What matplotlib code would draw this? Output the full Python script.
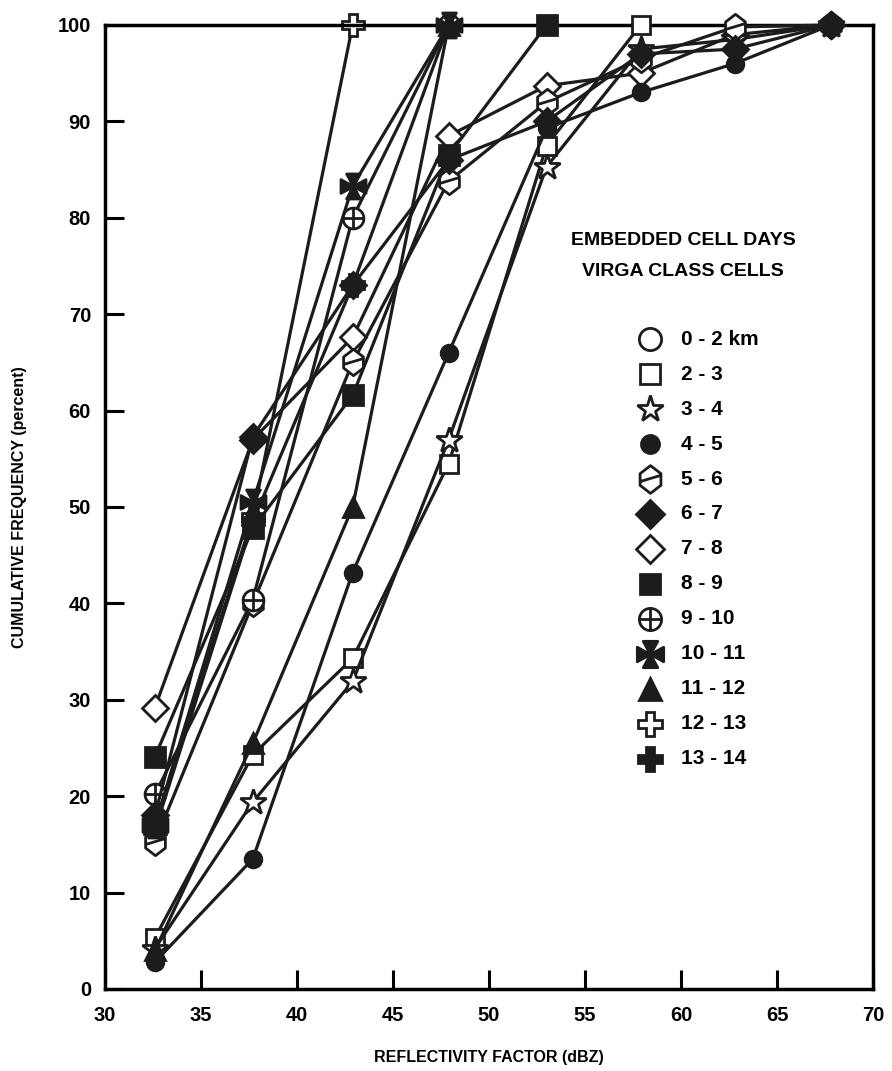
import matplotlib
matplotlib.use("Agg")
import matplotlib.pyplot as plt
from matplotlib.path import Path

plt.rcParams['font.family'] = ['Liberation Sans', 'DejaVu Sans']
plt.rcParams['font.weight'] = 'bold'

# ---- data -------------------------------------------------------------
x_dbz = [32.6, 37.7, 42.9, 47.9, 53.0, 57.9, 62.8, 67.8]

labels = ["0 - 2 km", "2 - 3", "3 - 4", "4 - 5", "5 - 6", "6 - 7", "7 - 8",
          "8 - 9", "9 - 10", "10 - 11", "11 - 12", "12 - 13", "13 - 14"]

cf_0_2 = []
cf_2_3 = [5.3, 24.3, 34.3, 54.5, 87.5, 100]
cf_3_4 = [4.2, 19.4, 31.9, 57.0, 85.3, 97.5, 98.5, 100]
cf_4_5 = [2.8, 13.5, 43.2, 66.0, 89.3, 93.0, 96.0, 100]
cf_5_6 = [15.3, 40.0, 65.0, 83.8, 92.0, 96.5, 99.8, 100]
cf_6_7 = [18.0, 57.3, 73.0, 86.0, 90.0, 97.0, 97.5, 100]
cf_7_8 = [29.2, 57.0, 67.6, 88.5, 93.7, 95.0, 99.0, 100]
cf_8_9 = [24.1, 47.8, 61.6, 86.5, 100]
cf_9_10 = [20.2, 40.4, 80.0, 100]
cf_10_11 = [17.0, 50.5, 83.3, 100]
cf_11_12 = [4.0, 25.5, 50.0, 100]
cf_12_13 = [16.8, 49.0, 100]
cf_13_14 = [16.5, 48.5, 73.0, 100]

series = [cf_0_2, cf_2_3, cf_3_4, cf_4_5, cf_5_6, cf_6_7, cf_7_8,
          cf_8_9, cf_9_10, cf_10_11, cf_11_12, cf_12_13, cf_13_14]

x_ticks = [30, 35, 40, 45, 50, 55, 60, 65, 70]
y_ticks = [0, 10, 20, 30, 40, 50, 60, 70, 80, 90, 100]

# ---- custom markers ---------------------------------------------------
M, L, C = Path.MOVETO, Path.LINETO, Path.CLOSEPOLY
hex_slash = Path(
    [(0, 1), (0.75, 0.42), (0.75, -0.42), (0, -1), (-0.75, -0.42), (-0.75, 0.42), (0, 1),
     (-0.75, -0.15), (0.75, 0.3)],
    [M, L, L, L, L, L, C, M, L])
maltese = Path(
    [(-0.55, 1), (0.55, 1), (0, 0), (-0.55, 1),
     (1, 0.55), (1, -0.55), (0, 0), (1, 0.55),
     (0.55, -1), (-0.55, -1), (0, 0), (0.55, -1),
     (-1, -0.55), (-1, 0.55), (0, 0), (-1, -0.55)],
    [M, L, L, C] * 4)
circle_plus = Path.make_compound_path(
    Path.unit_circle(),
    Path([(-1, 0), (1, 0)], [M, L]),
    Path([(0, -1), (0, 1)], [M, L]))

DK = '#1c1c1c'
W = 'white'
styles = [
    dict(marker='o', mfc=W, ms=15, z=3),
    dict(marker='s', mfc=W, ms=13, z=3),
    dict(marker='*', mfc=W, ms=19, z=3),
    dict(marker='o', mfc=DK, ms=12, z=3),
    dict(marker=hex_slash, mfc=W, ms=19, z=3),
    dict(marker='D', mfc=DK, ms=13, z=4),
    dict(marker='D', mfc=W, ms=13, z=2.5),
    dict(marker='s', mfc=DK, ms=14, z=3),
    dict(marker=circle_plus, mfc=W, ms=15, z=3),
    dict(marker=maltese, mfc=DK, ms=18, z=3),
    dict(marker='^', mfc=DK, ms=15, z=3),
    dict(marker='P', mfc=W, ms=16, z=2.2),
    dict(marker='P', mfc=DK, ms=16, z=2.4),
]

# ---- figure -----------------------------------------------------------
fig = plt.figure(figsize=(8.92, 10.71), dpi=100)
ax = fig.add_axes([105 / 892, 1 - 989 / 1071, 768 / 892, 964 / 1071])

for lab, ys, st in zip(labels, series, styles):
    xs = x_dbz[:len(ys)]
    ax.plot(xs, ys, color=DK, lw=2.3, marker=st['marker'], ms=st['ms'],
            mfc=st['mfc'], mec=DK, mew=2.0, zorder=st['z'], clip_on=False)

ax.set_xlim(30, 70)
ax.set_ylim(0, 100)
ax.set_xticks(x_ticks)
ax.set_yticks(y_ticks)
ax.tick_params(direction='in', length=14, width=2.2, labelsize=14.5)
ax.tick_params(axis='x', pad=12)
ax.tick_params(axis='y', pad=10)
for lbl in ax.get_xticklabels() + ax.get_yticklabels():
    lbl.set_fontweight('bold')
for sp in ax.spines.values():
    sp.set_linewidth(2.5)

ax.set_xlabel("REFLECTIVITY FACTOR (dBZ)", fontsize=11.5, fontweight='bold', labelpad=18)
ax.set_ylabel("CUMULATIVE FREQUENCY (percent)", fontsize=11.5, fontweight='bold', labelpad=22)

# legend title
ax.text(0.7526, 0.776, "EMBEDDED CELL DAYS", transform=ax.transAxes,
        ha='center', va='center', fontsize=14, fontweight='bold')
ax.text(0.7526, 0.744, "VIRGA CLASS CELLS", transform=ax.transAxes,
        ha='center', va='center', fontsize=14, fontweight='bold')

# legend entries (marker + label)
y0, dy = 0.674, (0.674 - 0.239) / 12
for i, (lab, st) in enumerate(zip(labels, styles)):
    yy = y0 - i * dy
    ax.plot([0.7096], [yy], transform=ax.transAxes, linestyle='none',
            marker=st['marker'], ms=st['ms'] + 1, mfc=st['mfc'], mec=DK, mew=2.0,
            clip_on=False, zorder=5)
    ax.text(0.75, yy, lab, transform=ax.transAxes, ha='left', va='center',
            fontsize=15, fontweight='bold')

fig.savefig("out.png", dpi=100)
